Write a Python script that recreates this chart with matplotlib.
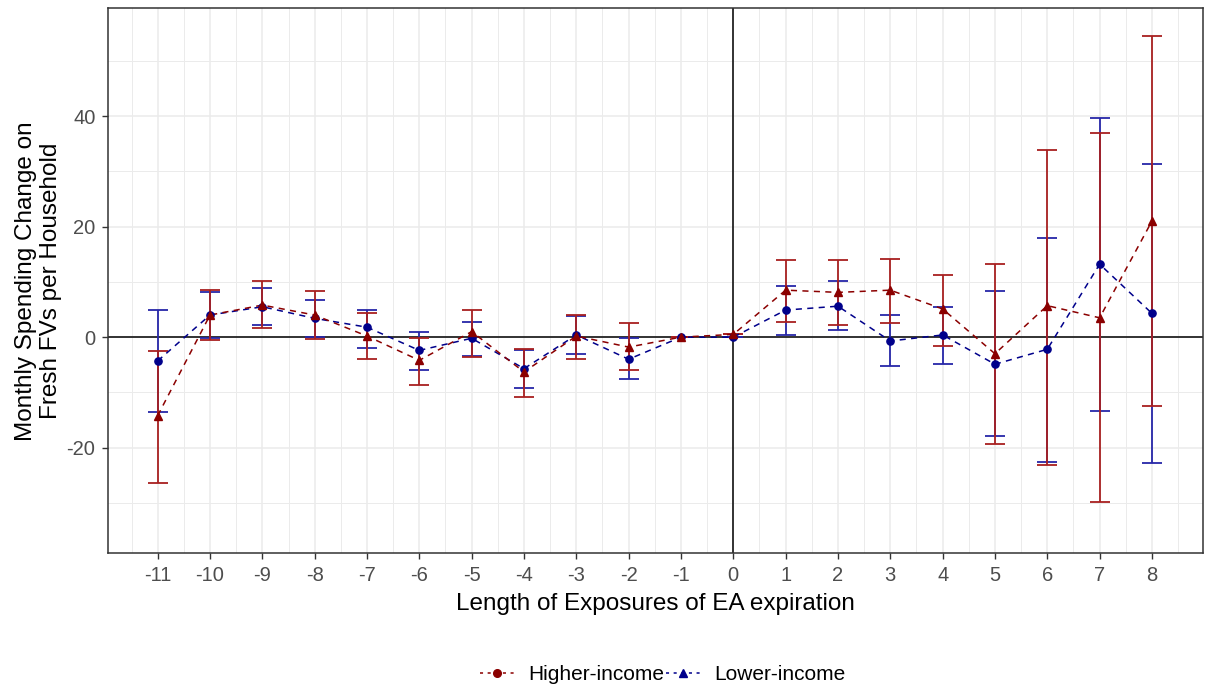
import numpy as np
import matplotlib.pyplot as plt
from matplotlib.lines import Line2D
from matplotlib.ticker import MultipleLocator

plt.rcParams['font.family'] = ['Liberation Sans', 'DejaVu Sans']
plt.rcParams['axes.unicode_minus'] = False

periods = [-11, -10, -9, -8, -7, -6, -5, -4, -3, -2, -1, 0, 1, 2, 3, 4, 5, 6, 7, 8]

# higher-income (dark red)
hi_est = [-14.2, 4.0, 5.8, 4.0, 0.2, -4.2, 1.0, -6.3, 0.2, -1.8, 0.0, 0.5,
          8.5, 8.1, 8.5, 5.1, -3.0, 5.7, 3.5, 21.0]
hi_low = [-26.3, -0.5, 1.7, -0.3, -4.0, -8.7, -3.6, -10.8, -4.0, -6.0, 0.0, 0.5,
          2.8, 2.2, 2.5, -1.6, -19.4, -23.2, -29.9, -12.4]
hi_up = [-2.5, 8.6, 10.1, 8.3, 4.3, -0.1, 4.9, -2.2, 4.0, 2.5, 0.0, 0.5,
         13.9, 13.9, 14.1, 11.3, 13.2, 33.8, 36.9, 54.5]

# lower-income (dark blue)
lo_est = [-4.3, 4.0, 5.5, 3.4, 1.8, -2.4, -0.2, -5.7, 0.4, -4.0, 0.0, 0.0,
          4.9, 5.6, -0.7, 0.4, -4.9, -2.2, 13.2, 4.3]
lo_low = [-13.6, -0.1, 2.2, 0.0, -1.9, -5.9, -3.4, -9.2, -3.1, -7.5, 0.0, 0.0,
          0.4, 1.3, -5.2, -4.9, -17.9, -22.5, -13.3, -22.8]
lo_up = [4.9, 8.2, 8.9, 6.7, 4.9, 1.0, 2.8, -2.3, 3.8, -0.2, 0.0, 0.0,
         9.2, 10.1, 4.0, 5.5, 8.3, 17.9, 39.7, 31.4]

red = '#8B0000'
blue = '#00008B'
red_bar = '#A82020'
blue_bar = '#2626A8'

fig = plt.figure(figsize=(12.05, 6.89), dpi=100)
ax = fig.add_axes([0.0896, 0.197, 0.9085, 0.791])

x = np.array(periods)
for est, low, up, col in [(lo_est, lo_low, lo_up, blue_bar), (hi_est, hi_low, hi_up, red_bar)]:
    est = np.array(est)
    yerr = [est - np.array(low), np.array(up) - est]
    ax.errorbar(x, est, yerr=yerr, fmt='none', ecolor=col,
                elinewidth=1.3, capsize=7.5, capthick=1.3, zorder=3)

ax.plot(x, lo_est, ls=(0, (4, 3.5)), color=blue, lw=1.1, zorder=4)
ax.plot(x, hi_est, ls=(0, (4, 3.5)), color=red, lw=1.1, zorder=4)
ax.plot(x, lo_est, 'o', color=blue, ms=5.2, zorder=5)
ax.plot(x, hi_est, '^', color=red, ms=5.5, zorder=5)

ax.axhline(0, color='black', lw=1.1, zorder=2)
ax.axvline(0, color='black', lw=1.1, zorder=2)

ax.set_xlim(-11.95, 8.97)
ax.set_ylim(-39.1, 59.5)
ax.set_xticks(periods)
ax.set_xticklabels([str(p) for p in periods])
ax.xaxis.set_minor_locator(MultipleLocator(0.5))
ax.set_yticks([-20, 0, 20, 40])
ax.yaxis.set_minor_locator(MultipleLocator(10))

ax.grid(which='major', color='#EBEBEB', lw=1.1, zorder=0)
ax.grid(which='minor', color='#EBEBEB', lw=0.7, zorder=0)
ax.set_axisbelow(True)
for s in ax.spines.values():
    s.set_color('#333333')
    s.set_linewidth(1.1)
ax.tick_params(which='major', length=4, width=1, color='#333333',
               labelcolor='#4D4D4D', labelsize=14.5, pad=5)
ax.tick_params(which='minor', length=0)

ax.set_xlabel('Length of Exposures of EA expiration', fontsize=17.5, color='black', labelpad=6)
ax.set_ylabel('Monthly Spending Change on\nFresh FVs per Household', fontsize=17.5,
              color='black', labelpad=3, linespacing=1.2)

handles = [Line2D([], [], color=red, ls=(0, (2, 3)), marker='o', ms=5.5, lw=1.1),
           Line2D([], [], color=blue, ls=(0, (2, 3)), marker='^', ms=5.5, lw=1.1)]
fig.legend(handles, ['Higher-income', 'Lower-income'], loc='center',
           bbox_to_anchor=(0.550, 0.021), ncol=2, frameon=False, fontsize=15,
           handlelength=1.6, columnspacing=0.1, handletextpad=0.7)

fig.savefig('out.png', dpi=100)
